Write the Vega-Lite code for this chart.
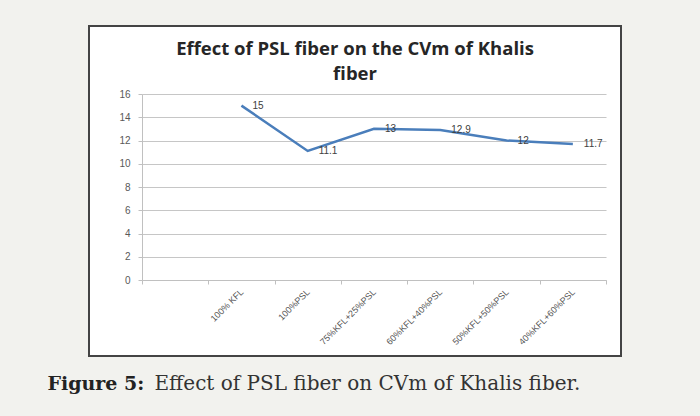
{
  "$schema": "https://vega.github.io/schema/vega-lite/v6.json",
  "width": 532,
  "height": 330,
  "autosize": {"type": "none"},
  "padding": {"left": 89, "top": 26, "right": 79, "bottom": 60},
  "background": "#f2f2ee",
  "title": {
    "text": ["Effect of PSL fiber on the CVm of Khalis", "fiber"],
    "font": "Open Sans",
    "fontSize": 18.5,
    "fontWeight": "bold",
    "color": "#262626",
    "anchor": "middle",
    "frame": "group",
    "offset": -57,
    "lineHeight": 25
  },
  "data": {
    "values": [
      {"blend": "100% KFL", "cvm": 15},
      {"blend": "100%PSL", "cvm": 11.1},
      {"blend": "75%KFL+25%PSL", "cvm": 13},
      {"blend": "60%KFL+40%PSL", "cvm": 12.9},
      {"blend": "50%KFL+50%PSL", "cvm": 12},
      {"blend": "40%KFL+60%PSL", "cvm": 11.7}
    ]
  },
  "encoding": {
    "x": {
      "field": "blend",
      "type": "nominal",
      "sort": null,
      "bandPosition": 0.5,
      "scale": {
        "type": "band",
        "domain": [" ", "100% KFL", "100%PSL", "75%KFL+25%PSL", "60%KFL+40%PSL", "50%KFL+50%PSL", "40%KFL+60%PSL"],
        "range": [53, 517],
        "paddingInner": 0,
        "paddingOuter": 0
      },
      "axis": {
        "orient": "bottom",
        "offset": -76,
        "tickBand": "extent",
        "grid": false,
        "domainColor": "#c0c0c0",
        "tickColor": "#c0c0c0",
        "tickSize": 4,
        "labelAngle": -45,
        "labelAlign": "right",
        "labelBaseline": "middle",
        "labelPadding": 6,
        "labelFontSize": 9,
        "labelColor": "#555555",
        "labelFont": "Liberation Sans",
        "title": "Effect of PSL fiber on CVm of Khalis fiber.",
        "titleX": 65,
        "titleY": 109,
        "titleAlign": "left",
        "titleBaseline": "alphabetic",
        "titleFont": "DejaVu Serif",
        "titleFontSize": 20,
        "titleFontWeight": "normal",
        "titleColor": "#333333"
      }
    },
    "y": {
      "field": "cvm",
      "type": "quantitative",
      "scale": {"domain": [0, 16], "range": [254, 68], "nice": false, "zero": true},
      "axis": {
        "orient": "left",
        "offset": -53,
        "values": [0, 2, 4, 6, 8, 10, 12, 14, 16],
        "grid": true,
        "gridColor": "#c6c6c6",
        "gridWidth": 1.2,
        "domainColor": "#c0c0c0",
        "tickColor": "#c0c0c0",
        "tickSize": 4,
        "labelPadding": 8,
        "labelFontSize": 10,
        "labelColor": "#595959",
        "labelFont": "Liberation Sans",
        "title": "Figure 5:",
        "titleAngle": 0,
        "titleX": -95,
        "titleY": 363,
        "titleAlign": "left",
        "titleBaseline": "alphabetic",
        "titleFont": "DejaVu Serif",
        "titleFontSize": 19,
        "titleFontWeight": "bold",
        "titleColor": "#222222"
      }
    }
  },
  "layer": [
    {"mark": {"type": "line", "color": "#4a7ebb", "strokeWidth": 2.5}},
    {
      "mark": {"type": "text", "align": "left", "baseline": "middle", "dx": 11, "fontSize": 10, "font": "Liberation Sans", "color": "#404040"},
      "encoding": {"text": {"field": "cvm", "type": "quantitative"}}
    }
  ],
  "config": {
    "view": {"stroke": "#444444", "strokeWidth": 2, "fill": "white"}
  }
}
